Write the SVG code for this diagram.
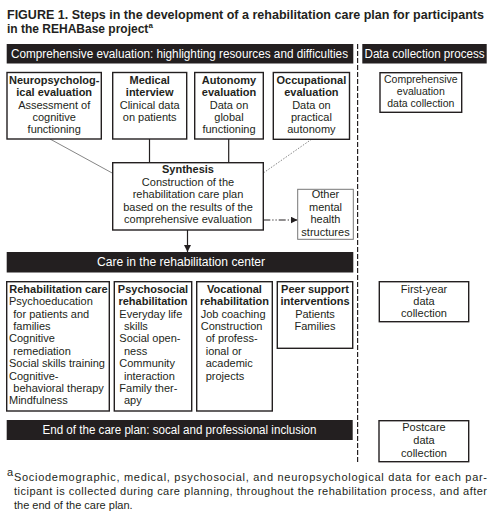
<svg xmlns="http://www.w3.org/2000/svg" width="497" height="521" viewBox="0 0 497 521">
<defs>
<style>
.box{fill:#fff;stroke:#231f20;stroke-width:1.4}
.gbox{fill:#fff;stroke:#777;stroke-width:1}
.bar{fill:#231f20}
text{font-family:"Liberation Sans",Arial,sans-serif;fill:#231f20}
.h{font-weight:bold;font-size:11px}
.b{font-size:11px}
.s{font-size:10.5px}
.c{text-anchor:middle}
.bt{fill:#fff;font-size:12px}
.t{font-weight:bold;font-size:12px}
.f{font-size:11px}
.ln{stroke:#231f20;stroke-width:1.2;fill:none}
</style>
<marker id="ah" viewBox="0 0 8 8" refX="8" refY="4" markerWidth="7" markerHeight="7" markerUnits="userSpaceOnUse" orient="auto">
<path d="M0,0 L8,4 L0,8 z" fill="#231f20"/>
</marker>
</defs>
<rect width="497" height="521" fill="#fff"/>

<g id="title">
<text class="t" x="7" y="18.5" textLength="477" lengthAdjust="spacingAndGlyphs">FIGURE 1. Steps in the development of a rehabilitation care plan for participants</text>
<text class="t" x="7" y="32.5">in the REHABase project<tspan font-size="8" dy="-5">a</tspan></text>
</g>

<g id="connectors">
<line x1="50" y1="139" x2="112.7" y2="173.3" stroke="#666" stroke-width="0.8"/>
<line x1="311.5" y1="139.3" x2="263.3" y2="173" stroke="#666" stroke-width="0.8" stroke-dasharray="1.5 1.5"/>
<line class="ln" x1="149.5" y1="139" x2="149.5" y2="162.7"/>
<line class="ln" x1="228.7" y1="139" x2="228.7" y2="162.7"/>
<line class="ln" x1="187.5" y1="230" x2="187.5" y2="252" marker-end="url(#ah)"/>
<line class="ln" x1="263.3" y1="220" x2="297.5" y2="220" stroke-dasharray="7 2 1.2 2 1.2 2" marker-end="url(#ah)"/>
<line x1="357.6" y1="44" x2="357.6" y2="462" stroke="#231f20" stroke-width="1.2" stroke-dasharray="5 2"/>
</g>

<g id="bar-evaluation">
<rect class="bar" x="6.7" y="44" width="346.6" height="19.5"/>
<text class="bt" x="11" y="58" textLength="337" lengthAdjust="spacingAndGlyphs">Comprehensive evaluation: highlighting resources and difficulties</text>
</g>
<g id="bar-data">
<rect class="bar" x="362.3" y="44" width="124.4" height="19.5"/>
<text class="bt" x="364.5" y="58" textLength="120" lengthAdjust="spacingAndGlyphs">Data collection process</text>
</g>

<g id="neuro">
<rect class="box" x="7" y="72.5" width="94.3" height="66.5"/>
<text class="h c" x="54.2" y="84">Neuropsycholog-</text>
<text class="h c" x="54.2" y="96.3">ical evaluation</text>
<text class="b c" x="54.2" y="108.6">Assessment of</text>
<text class="b c" x="54.2" y="120.9">cognitive</text>
<text class="b c" x="54.2" y="133.2">functioning</text>
</g>
<g id="medical">
<rect class="box" x="112.7" y="72.5" width="74" height="66.5"/>
<text class="h c" x="149.7" y="84">Medical</text>
<text class="h c" x="149.7" y="96.3">interview</text>
<text class="b c" x="149.7" y="108.6">Clinical data</text>
<text class="b c" x="149.7" y="120.9">on patients</text>
</g>
<g id="autonomy">
<rect class="box" x="194.7" y="72.5" width="68.6" height="66.5"/>
<text class="h c" x="229" y="84">Autonomy</text>
<text class="h c" x="229" y="96.3">evaluation</text>
<text class="b c" x="229" y="108.6">Data on</text>
<text class="b c" x="229" y="120.9">global</text>
<text class="b c" x="229" y="133.2">functioning</text>
</g>
<g id="occupational">
<rect class="box" x="273.3" y="72.5" width="76.2" height="66.8"/>
<text class="h c" x="311.4" y="84">Occupational</text>
<text class="h c" x="311.4" y="96.3">evaluation</text>
<text class="b c" x="311.4" y="108.6">Data on</text>
<text class="b c" x="311.4" y="120.9">practical</text>
<text class="b c" x="311.4" y="133.2">autonomy</text>
</g>

<g id="dc-comprehensive">
<rect class="box" x="380" y="72.7" width="81.7" height="39.6" stroke-width="1.2"/>
<text class="s c" x="420.8" y="83.3">Comprehensive</text>
<text class="s c" x="420.8" y="95.1">evaluation</text>
<text class="s c" x="420.8" y="106.9">data collection</text>
</g>

<g id="synthesis">
<rect class="box" x="112.7" y="162.7" width="150.6" height="67.3"/>
<text class="h c" x="188" y="173">Synthesis</text>
<text class="b c" x="188" y="185.6">Construction of the</text>
<text class="b c" x="188" y="198.1">rehabilitation care plan</text>
<text class="b c" x="188" y="210.6">based on the results of the</text>
<text class="b c" x="188" y="223.1">comprehensive evaluation</text>
</g>

<g id="other">
<rect class="gbox" x="297.7" y="189.3" width="55.6" height="50"/>
<text class="b c" x="325.5" y="198">Other</text>
<text class="b c" x="325.5" y="210.7">mental</text>
<text class="b c" x="325.5" y="223.4">health</text>
<text class="b c" x="325.5" y="236.1">structures</text>
</g>

<g id="bar-care">
<rect class="bar" x="6.7" y="252" width="346.6" height="20.5"/>
<text class="bt c" x="181" y="266.3" textLength="168" lengthAdjust="spacingAndGlyphs">Care in the rehabilitation center</text>
</g>

<g id="rehab-care">
<rect class="box" x="6.7" y="281.7" width="102.6" height="129.3"/>
<text class="h" x="9.3" y="292.7">Rehabilitation care</text>
<text class="b" x="9" y="305.1">Psychoeducation</text>
<text class="b" x="13.3" y="317.5">for patients and</text>
<text class="b" x="13.3" y="329.9">families</text>
<text class="b" x="9" y="342.3">Cognitive</text>
<text class="b" x="13.3" y="354.7">remediation</text>
<text class="b" x="9" y="367.1">Social skills training</text>
<text class="b" x="9" y="379.5">Cognitive-</text>
<text class="b" x="13.3" y="391.9">behavioral therapy</text>
<text class="b" x="9" y="404.3">Mindfulness</text>
</g>
<g id="psychosocial">
<rect class="box" x="114.3" y="281.7" width="77.4" height="129.3"/>
<text class="h c" x="153" y="292.7">Psychosocial</text>
<text class="h c" x="153" y="305.1">rehabilitation</text>
<text class="b" x="119.3" y="317.5">Everyday life</text>
<text class="b" x="124" y="329.9">skills</text>
<text class="b" x="119.3" y="342.3">Social open-</text>
<text class="b" x="124" y="354.7">ness</text>
<text class="b" x="119.3" y="367.1">Community</text>
<text class="b" x="124" y="379.5">interaction</text>
<text class="b" x="119.3" y="391.9">Family ther-</text>
<text class="b" x="124" y="404.3">apy</text>
</g>
<g id="vocational">
<rect class="box" x="196.7" y="281.7" width="75.6" height="129.3"/>
<text class="h c" x="234.5" y="292.7">Vocational</text>
<text class="h c" x="234.5" y="305.1">rehabilitation</text>
<text class="b" x="200.7" y="317.5">Job coaching</text>
<text class="b" x="200.7" y="329.9">Construction</text>
<text class="b" x="205.7" y="342.3">of profess-</text>
<text class="b" x="205.7" y="354.7">ional or</text>
<text class="b" x="205.7" y="367.1">academic</text>
<text class="b" x="205.7" y="379.5">projects</text>
</g>
<g id="peer-support">
<rect class="box" x="277.3" y="281.7" width="75.4" height="66.6"/>
<text class="h c" x="315" y="292.7">Peer support</text>
<text class="h c" x="315" y="305.1">interventions</text>
<text class="b c" x="315" y="317.5">Patients</text>
<text class="b c" x="315" y="329.9">Families</text>
</g>

<g id="dc-first-year">
<rect class="box" x="379.3" y="281.7" width="89.4" height="40" stroke-width="1.2"/>
<text class="b c" x="424" y="292.7">First-year</text>
<text class="b c" x="424" y="305">data</text>
<text class="b c" x="424" y="317.3">collection</text>
</g>

<g id="bar-end">
<rect class="bar" x="6.7" y="420" width="346" height="20"/>
<text class="bt c" x="179.5" y="434.3" textLength="274" lengthAdjust="spacingAndGlyphs">End of the care plan: socal and professional inclusion</text>
</g>

<g id="dc-postcare">
<rect class="box" x="379" y="420.7" width="89.7" height="41" stroke-width="1.2"/>
<text class="b c" x="424" y="431.3">Postcare</text>
<text class="b c" x="424" y="444.3">data</text>
<text class="b c" x="424" y="456.7">collection</text>
</g>

<g id="footnote">
<text class="f" x="7" y="476" font-size="7.5">a</text>
<text class="f" x="14" y="481" textLength="473" lengthAdjust="spacing">Sociodemographic, medical, psychosocial, and neuropsychological data for each par-</text>
<text class="f" x="14" y="495" textLength="473" lengthAdjust="spacing">ticipant is collected during care planning, throughout the rehabilitation process, and after</text>
<text class="f" x="14" y="509.3">the end of the care plan.</text>
</g>
</svg>
